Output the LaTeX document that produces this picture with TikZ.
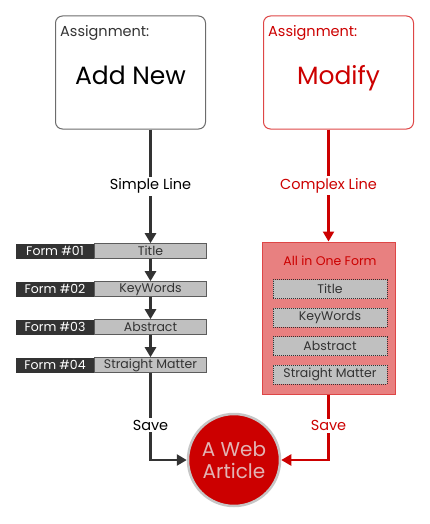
\documentclass[tikz,border=0pt]{standalone}
\usepackage{fontspec}
\setmainfont{Poppins}
\usetikzlibrary{positioning,arrows.meta}
\definecolor{darkline}{RGB}{51,51,51}
\definecolor{redline}{RGB}{204,0,0}
\definecolor{redpale}{RGB}{232,128,128}
\definecolor{redborder}{RGB}{222,70,70}
\definecolor{fieldgray}{RGB}{192,192,192}
\definecolor{webtext}{RGB}{226,180,180}

\begin{document}
\begin{tikzpicture}[x=1pt,y=-1pt,
    assign/.style={rectangle, draw, rounded corners=7pt, line width=1pt, minimum width=150pt, minimum height=113pt},
    tagtext/.style={anchor=north west, inner sep=0pt, font=\fontsize{14.5}{16}\selectfont},
    bigtext/.style={anchor=base, font=\fontsize{25}{28}\selectfont},
    formtag/.style={rectangle, fill=darkline, text=white, minimum width=78pt, minimum height=15pt, inner sep=0pt, font=\fontsize{12.5}{14}\selectfont},
    formfield/.style={rectangle, fill=fieldgray, draw=darkline!80, line width=0.6pt, text=darkline, minimum width=112pt, minimum height=15pt, inner sep=0pt, font=\fontsize{12.5}{14}\selectfont},
    innerfield/.style={rectangle, fill=fieldgray, draw=darkline, dash pattern=on 1pt off 1pt, line width=0.6pt, text=darkline, minimum width=114pt, minimum height=19pt, inner sep=0pt, font=\fontsize{12.5}{14}\selectfont},
    flow/.style={draw=darkline, line width=2.6pt, -{Triangle[width=11pt,length=10pt]}},
    redflow/.style={draw=redline, line width=2.2pt, -{Triangle[width=11pt,length=10pt]}},
    linelabel/.style={fill=white, inner sep=2pt, font=\fontsize{14.5}{16}\selectfont}
  ]
\useasboundingbox (0,0) rectangle (430,524);

% the two assignments
\node[assign, draw=gray!85!black] (addbox) at (130.5,72.5) {};
\node[tagtext, text=darkline] (addtag) at (60,25) {Assignment:};
\node[bigtext, text=black] (addname) at (130.5,85) {Add New};

\node[assign, draw=redborder] (modbox) at (338.5,72.5) {};
\node[tagtext, text=redline] (modtag) at (268,25) {Assignment:};
\node[bigtext, text=redline] (modname) at (338.5,85) {Modify};

% simple line: one form per part
\foreach \i/\lbl [count=\n] in {01/Title, 02/KeyWords, 03/Abstract, 04/Straight Matter} {
  \node[formtag] (tag\n) at (55,213+38*\n) {Form \#\i};
  \node[formfield, right=0pt of tag\n] (fld\n) {\lbl};
}

% complex line: all in one form
\node[rectangle, fill=redpale, draw=redborder, line width=1pt, minimum width=133pt, minimum height=152pt] (allform) at (328.5,318) {};
\node[text=redline, font=\fontsize{12.5}{14}\selectfont] (alltitle) at (330,261) {All in One Form};
\foreach \lbl [count=\n] in {Title, KeyWords, Abstract, Straight Matter} {
  \node[innerfield] (part\n) at (330,260.5+28.5*\n) {\lbl};
}

% the result
\node[circle, fill=redline, draw=gray!45, line width=2.5pt, minimum size=92pt, text=webtext, align=center, font=\fontsize{20}{22}\selectfont] (web) at (234,460) {A Web\\Article};

% connectors
\draw[flow] (addbox.south -| fld1.north) -- node[linelabel, text=black] {Simple Line} (fld1.north);
\draw[flow] (fld1.south) -- (fld2.north);
\draw[flow] (fld2.south) -- (fld3.north);
\draw[flow] (fld3.south) -- (fld4.north);
\draw[flow] (fld4.south) |- node[linelabel, pos=0.3, text=black] {Save} (web.west);

\draw[redflow] (modbox.south -| allform.north) -- node[linelabel, text=redline] {Complex Line} (allform.north);
\draw[redflow] (allform.south) |- node[linelabel, pos=0.24, text=redline] {Save} (web.east);

\end{tikzpicture}
\end{document}
